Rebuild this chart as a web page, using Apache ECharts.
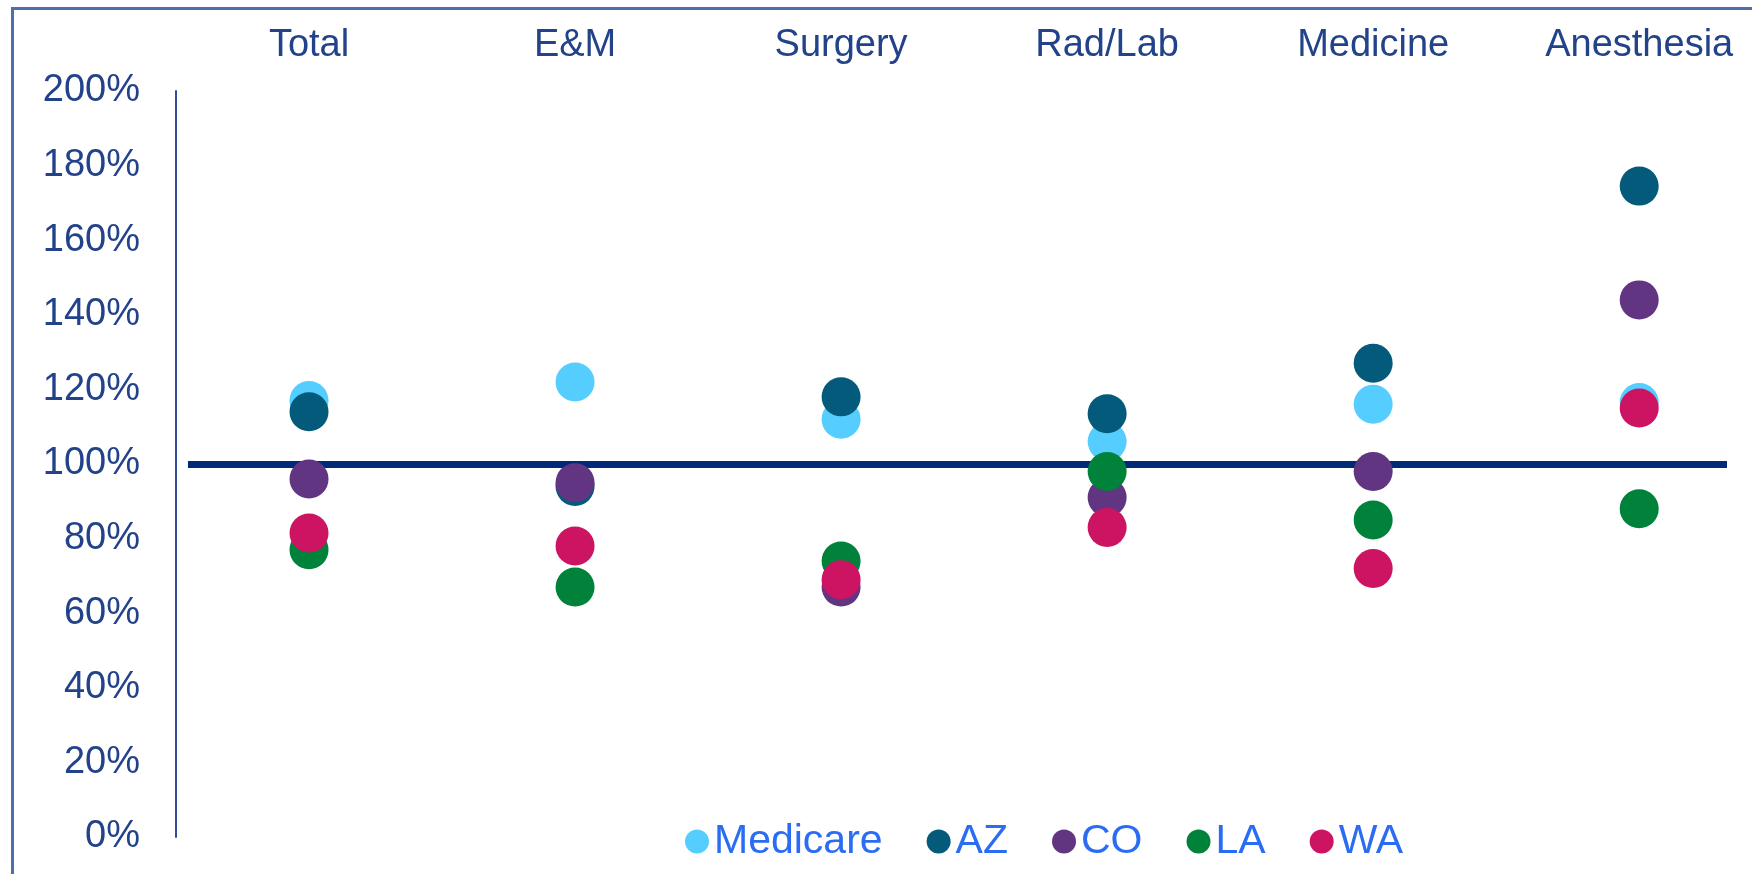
<!DOCTYPE html>
<html style="height: 100%">

<head>
    <meta charset="UTF-8" />
    <script type="text/javascript" src="https://cdn.jsdelivr.net/npm/echarts@6.0.0/dist/echarts.min.js"></script>
</head>

<body style="height: 100%; margin: 0; background: #fff">
    <div id="container" style="width: 1752px; height: 874px"></div>
    <div id="frame" style="position: absolute; left: 11px; top: 7px; right: 0; bottom: 0; border-left: 3px solid #4d6fab; border-top: 3px solid #4d6fab; pointer-events: none"></div>
    <script>
        // categories along the top
        var categories = ['Total', 'E&M', 'Surgery', 'Rad/Lab', 'Medicine', 'Anesthesia'];

        // percent of reference (100% line)
        var medicare = [117, 122, 112, 106, 116, 116.5];
        var az = [114, 94, 118, 113.5, 127, 174.5];
        var co = [96, 95, 67, 91, 98, 144];
        var la = [77, 67, 74, 98, 85, 88];
        var wa = [81.5, 78, 69, 83, 72, 115];

        var seriesNames = ['Medicare', 'AZ', 'CO', 'LA', 'WA'];
        var seriesValues = [medicare, az, co, la, wa];
        var colors = ['#55ceff', '#035a7a', '#623582', '#00823a', '#cc1462'];

        var baseline = 100;
        var navy = '#22428a';

        var dom = document.getElementById('container');
        var chart = echarts.init(dom);

        function toPoints(values) {
            return values.map(function (v, i) { return [i, v]; });
        }

        var series = seriesNames.map(function (name, k) {
            var s = {
                name: name,
                type: 'scatter',
                symbol: 'circle',
                symbolSize: 39,
                itemStyle: { color: colors[k], opacity: 1 },
                data: toPoints(seriesValues[k]),
                z: 3 + k
            };
            if (k === 0) {
                s.markLine = {
                    silent: true,
                    symbol: 'none',
                    label: { show: false },
                    lineStyle: { color: '#002a78', width: 7, type: 'solid' },
                    data: [[{ coord: [-0.455, baseline] }, { coord: [5.33, baseline] }]],
                    z: 2
                };
            }
            return s;
        });

        chart.setOption({
            animation: false,
            color: colors,
            grid: { left: 176, right: 25, top: 91, bottom: 37 },
            xAxis: {
                type: 'value',
                position: 'top',
                min: -0.5,
                max: 5.33,
                axisLine: { show: false },
                axisTick: { show: false },
                splitLine: { show: false },
                axisLabel: {
                    customValues: [0, 1, 2, 3, 4, 5],
                    formatter: function (v) { return categories[Math.round(v)]; },
                    fontFamily: 'Liberation Sans, Arial, sans-serif',
                    fontSize: 38,
                    color: navy,
                    margin: 26
                }
            },
            yAxis: {
                type: 'value',
                min: 0,
                max: 200,
                interval: 20,
                axisLine: { show: true, onZero: false, lineStyle: { color: '#2f4f99', width: 2 } },
                axisTick: { show: false },
                splitLine: { show: false },
                axisLabel: {
                    formatter: '{value}%',
                    fontFamily: 'Liberation Sans, Arial, sans-serif',
                    fontSize: 38,
                    color: navy,
                    margin: 36,
                    padding: [13, 0, 0, 0]
                }
            },
            legend: {
                data: seriesNames,
                left: 680,
                top: 816,
                icon: 'circle',
                itemWidth: 24,
                itemHeight: 24,
                itemGap: 44,
                textStyle: {
                    fontFamily: 'Liberation Sans, Arial, sans-serif',
                    fontSize: 41,
                    color: '#2a6df4',
                    padding: [0, 0, 0, 0]
                }
            },
            series: series
        });
    </script>
</body>

</html>
